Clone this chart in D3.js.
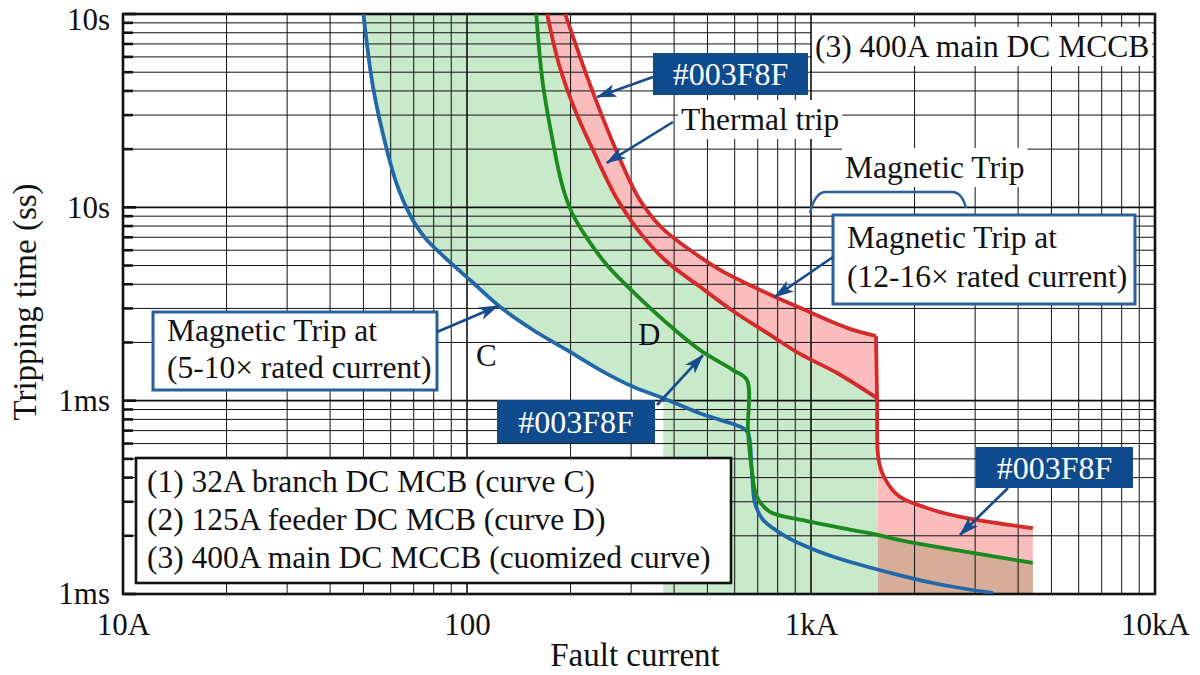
<!DOCTYPE html>
<html>
<head>
<meta charset="utf-8">
<script src="https://cdn.jsdelivr.net/npm/d3@7"></script>
<style>
  body { margin: 0; background: #fff; }
  svg { display: block; font-family: "Liberation Serif", "Times New Roman", serif; }
</style>
</head>
<body>
<svg id="chart" width="1200" height="675"></svg>
<script>
// [fault current (A), tripping time (s)]
let curveC = [
    [50, 1.0], [53.3, 0.42], [58.5, 0.198], [62.6, 0.1306], [68.3, 0.0913], [75.5, 0.0695],
    [85.2, 0.0561], [102, 0.0421], [124.7, 0.0306], [155.6, 0.0232], [195, 0.0183], [244, 0.0144],
    [304, 0.0118], [372, 0.0103], [475, 0.0086], [634, 0.00722], [656, 0.00681], [673, 0.00438],
    [687, 0.00296], [725, 0.00242], [851, 0.00197], [1062, 0.00165], [1324, 0.00145], [1663, 0.0013],
    [2264, 0.00114], [3381, 0.00101]
]

let curveD = [
    [159, 1.0], [166, 0.441], [178, 0.215], [189, 0.1306], [202, 0.0935], [223, 0.0695],
    [255, 0.0503], [304, 0.0365], [381, 0.0252], [475, 0.0183], [593, 0.0144], [651, 0.0128],
    [656, 0.00705], [673, 0.00438], [696, 0.00318], [760, 0.00266], [948, 0.00241], [1324, 0.00214],
    [1566, 0.00202], [1814, 0.0019], [2838, 0.00165], [4415, 0.00145]
]

// 400A MCCB: thermal band upper / lower edge, then magnetic tail
let mccbUpper = [
    [193, 1.0], [228, 0.43], [275, 0.1867], [318, 0.1092], [369, 0.0782], [445, 0.0602],
    [544, 0.0475], [711, 0.0374], [929, 0.0302], [1273, 0.0238], [1545, 0.0216]
]

let mccbLower = [
    [171, 1.0], [186, 0.532], [206, 0.319], [236, 0.1867], [269, 0.1159], [314, 0.0764],
    [376, 0.0534], [476, 0.0388], [593, 0.0291], [745, 0.0224], [929, 0.01744], [1191, 0.0139],
    [1556, 0.0103]
]

let mccbTail = [
    [1556, 0.0103], [1566, 0.00524], [1606, 0.00428], [1698, 0.00358], [1814, 0.00318],
    [2264, 0.00272], [2838, 0.00247], [4415, 0.00219]
]

let greenEdgeCurrent = 372

let xTicks = [10, 100, 1000, 10000]
let xTickLabels = ["10A", "100", "1kA", "10kA"]
let yTicks = [1, 0.1, 0.01, 0.001]
let yTickLabels = ["10s", "10s", "1ms", "1ms"]

let legendItems = [
    "(1) 32A branch DC MCB (curve C)",
    "(2) 125A feeder DC MCB (curve D)",
    "(3) 400A main DC MCCB (cuomized curve)"
]

let colors = {
    blue: "#2268a8",
    green: "#1b8a1e",
    red: "#d42a2a",
    navy: "#0f4a8c",
    arrow: "#174b8c",
    frame: "#2b5f9a"
}

const W = 1200, H = 675
const margin = { left: 123, right: 45, top: 14, bottom: 81 }

const svg = d3.select('#chart')

const x = d3.scaleLog().domain([10, 10000]).range([margin.left, W - margin.right])
const y = d3.scaleLog().domain([0.001, 1]).range([H - margin.bottom, margin.top])

const line = d3.line()
    .x(d => x(d[0]))
    .y(d => y(d[1]))
    .curve(d3.curveCatmullRom.alpha(0.5))

const pt = (i, t) => x(i) + ',' + y(t)

let defs = svg.append('defs')
defs.append('clipPath').attr('id', 'plot-clip')
    .append('rect')
    .attr('x', x(10)).attr('y', y(1))
    .attr('width', x(10000) - x(10)).attr('height', y(0.001) - y(1))

defs.append('marker')
    .attr('id', 'arrow')
    .attr('viewBox', '0 -7 20 14')
    .attr('refX', 19).attr('refY', 0)
    .attr('markerWidth', 20).attr('markerHeight', 14)
    .attr('markerUnits', 'userSpaceOnUse')
    .attr('orient', 'auto')
    .append('path')
    .attr('d', 'M0,-6.5L20,0L0,6.5L5,0Z')
    .attr('fill', colors.arrow)

let plot = svg.append('g').attr('clip-path', 'url(#plot-clip)')

// ---- fills
let tailEnd = mccbTail[mccbTail.length - 1][0]
let bluePart = curveC.filter(d => d[0] <= greenEdgeCurrent)
let greenPart = curveD.filter(d => d[0] >= mccbTail[1][0]).reverse()
let lowerRev = mccbLower.slice().reverse()

let greenPath = line(bluePart) +
    'L' + pt(greenEdgeCurrent, 0.001) +
    'L' + pt(tailEnd, 0.001) +
    'L' + line(greenPart).slice(1) +
    'L' + line(lowerRev).slice(1) + 'Z'

plot.append('path')
    .attr('d', greenPath)
    .attr('fill', '#3cb043')
    .attr('fill-opacity', 0.28)

let bandPath = line(mccbUpper) + 'L' + line(lowerRev).slice(1) + 'Z'
plot.append('path')
    .attr('d', bandPath)
    .attr('fill', '#f04040')
    .attr('fill-opacity', 0.35)

let tailPart = mccbTail.slice(1)
let tailFill = line(tailPart) +
    'L' + pt(tailEnd, 0.001) +
    'L' + pt(tailPart[0][0], 0.001) + 'Z'
plot.append('path')
    .attr('d', tailFill)
    .attr('fill', '#f04040')
    .attr('fill-opacity', 0.35)

// ---- grid
let xGrid = [], yGrid = []
;[10, 100, 1000].forEach(dec => {
    for (let k = 1; k <= 9; k++) xGrid.push({ v: k * dec, major: k === 1 })
})
xGrid.push({ v: 10000, major: true })
;[0.001, 0.01, 0.1].forEach(dec => {
    for (let k = 1; k <= 9; k++) yGrid.push({ v: k * dec, major: k === 1 })
})
yGrid.push({ v: 1, major: true })

let grid = svg.append('g')
grid.selectAll('.vgrid')
    .data(xGrid)
    .join('line')
    .attr('x1', d => x(d.v)).attr('x2', d => x(d.v))
    .attr('y1', y(1)).attr('y2', y(0.001))
    .attr('stroke', '#111')
    .attr('stroke-width', d => d.major ? 1.6 : 1)

grid.selectAll('.hgrid')
    .data(yGrid)
    .join('line')
    .attr('x1', x(10)).attr('x2', x(10000))
    .attr('y1', d => y(d.v)).attr('y2', d => y(d.v))
    .attr('stroke', '#111')
    .attr('stroke-width', d => d.major ? 1.6 : 1)

// small inner ticks on the left axis
grid.selectAll('.ltick')
    .data(yGrid)
    .join('line')
    .attr('x1', x(10)).attr('x2', d => x(10) + (d.major ? 13 : 10))
    .attr('y1', d => y(d.v)).attr('y2', d => y(d.v))
    .attr('stroke', '#111')
    .attr('stroke-width', 2.6)

svg.append('rect')
    .attr('x', x(10)).attr('y', y(1))
    .attr('width', x(10000) - x(10)).attr('height', y(0.001) - y(1))
    .attr('fill', 'none')
    .attr('stroke', '#111')
    .attr('stroke-width', 2.6)

// ---- axes
let xAxis = svg.append('g')
    .attr('transform', `translate(0,${y(0.001)})`)
    .call(d3.axisBottom(x).tickValues(xTicks).tickFormat((d, i) => xTickLabels[i]).tickSize(0).tickPadding(19))
xAxis.select('.domain').remove()
xAxis.selectAll('text').style('font-size', '31px').attr('fill', '#111').style('font-family', 'Liberation Serif')

let yAxis = svg.append('g')
    .attr('transform', `translate(${x(10)},0)`)
    .call(d3.axisLeft(y).tickValues(yTicks).tickFormat((d, i) => yTickLabels[i]).tickSize(0).tickPadding(13))
yAxis.select('.domain').remove()
yAxis.selectAll('text').style('font-size', '31px').attr('fill', '#111').style('font-family', 'Liberation Serif')
yAxis.selectAll('.tick').filter(d => d === 1).select('text').attr('y', 6)

svg.append('text')
    .attr('transform', `translate(36,${302}) rotate(-90)`)
    .attr('text-anchor', 'middle')
    .style('font-size', '33px')
    .attr('fill', '#111')
    .text('Tripping time (ss)')

svg.append('text')
    .attr('x', 635).attr('y', 666)
    .attr('text-anchor', 'middle')
    .style('font-size', '33px')
    .attr('fill', '#111')
    .text('Fault current')

// ---- curves
let curves = svg.append('g').attr('clip-path', 'url(#plot-clip)')
    .attr('fill', 'none')
    .attr('stroke-width', 3.8)
    .attr('stroke-linejoin', 'round')

curves.append('path').attr('d', line(curveC)).attr('stroke', colors.blue)
curves.append('path').attr('d', line(curveD)).attr('stroke', colors.green)
curves.append('path').attr('d', line(mccbLower)).attr('stroke', colors.red)
curves.append('path').attr('d', line(mccbUpper)).attr('stroke', colors.red)
curves.append('path').attr('d', line([mccbUpper[mccbUpper.length - 1]].concat(mccbTail))).attr('stroke', colors.red)

// ---- annotations
let notes = svg.append('g')

function plainLabel(tx, ty, label, pad) {
    let t = notes.append('text')
        .attr('x', tx).attr('y', ty)
        .style('font-size', '31.5px')
        .attr('fill', '#111')
        .text(label)
    let b = t.node().getBBox()
    notes.insert('rect', () => t.node())
        .attr('x', b.x - pad[0]).attr('y', b.y - pad[1])
        .attr('width', b.width + 2 * pad[0]).attr('height', b.height + 2 * pad[1])
        .attr('fill', '#fff')
    return t
}

function framedBox(x0, y0, w, h, lines, tx, baselines, stroke, sw, fs) {
    notes.append('rect')
        .attr('x', x0).attr('y', y0).attr('width', w).attr('height', h)
        .attr('fill', '#fff')
        .attr('stroke', stroke)
        .attr('stroke-width', sw)
    lines.forEach((l, i) => {
        notes.append('text')
            .attr('x', tx).attr('y', baselines[i])
            .style('font-size', fs)
            .attr('fill', '#111')
            .text(l)
    })
}

function darkBox(x0, y0, w, h, label) {
    notes.append('rect')
        .attr('x', x0).attr('y', y0).attr('width', w).attr('height', h)
        .attr('fill', colors.navy)
    notes.append('text')
        .attr('x', x0 + w / 2).attr('y', y0 + h / 2)
        .attr('dy', '0.35em')
        .attr('text-anchor', 'middle')
        .style('font-size', '32px')
        .attr('fill', '#fff')
        .text(label)
}

function arrow(fx, fy, tip) {
    notes.append('line')
        .attr('x1', fx).attr('y1', fy)
        .attr('x2', x(tip[0])).attr('y2', y(tip[1]))
        .attr('stroke', colors.arrow)
        .attr('stroke-width', 2.6)
        .attr('marker-end', 'url(#arrow)')
}

plainLabel(815, 57, '(3) 400A main DC MCCB', [3, 2])
plainLabel(681, 130, 'Thermal trip', [3, 2])
plainLabel(845, 178, 'Magnetic Trip', [3, 2])

notes.append('path')
    .attr('d', 'M810,213 Q815,192 826,192 L952,192 Q962,192 966,208')
    .attr('fill', 'none')
    .attr('stroke', colors.frame)
    .attr('stroke-width', 2.4)

framedBox(833, 215, 302, 89, ['Magnetic Trip at', '(12-16\u00d7 rated current)'], 847, [248, 287], colors.frame, 3, '31.5px')
framedBox(153, 312, 284, 78, ['Magnetic Trip at', '(5-10\u00d7 rated current)'], 167, [341, 378], colors.frame, 3, '31.5px')
framedBox(136, 458, 595, 125, legendItems, 147, [492, 530, 568], '#111', 2.6, '31.5px')

notes.append('text').attr('x', 476).attr('y', 366).style('font-size', '31px').attr('fill', '#111').text('C')
notes.append('text').attr('x', 638).attr('y', 345).style('font-size', '31px').attr('fill', '#111').text('D')

darkBox(653, 53, 155, 42, '#003F8F')
darkBox(497, 400, 158, 43, '#003F8F')
darkBox(976, 447, 157, 41, '#003F8F')

arrow(653, 77, [239, 0.372])
arrow(673, 122, [255, 0.17])
arrow(833, 257, [785, 0.0344])
arrow(437, 332, [123, 0.0309])
arrow(657, 405, [485, 0.0172])
arrow(1008, 488, [2710, 0.00202])
</script>
</body>
</html>
